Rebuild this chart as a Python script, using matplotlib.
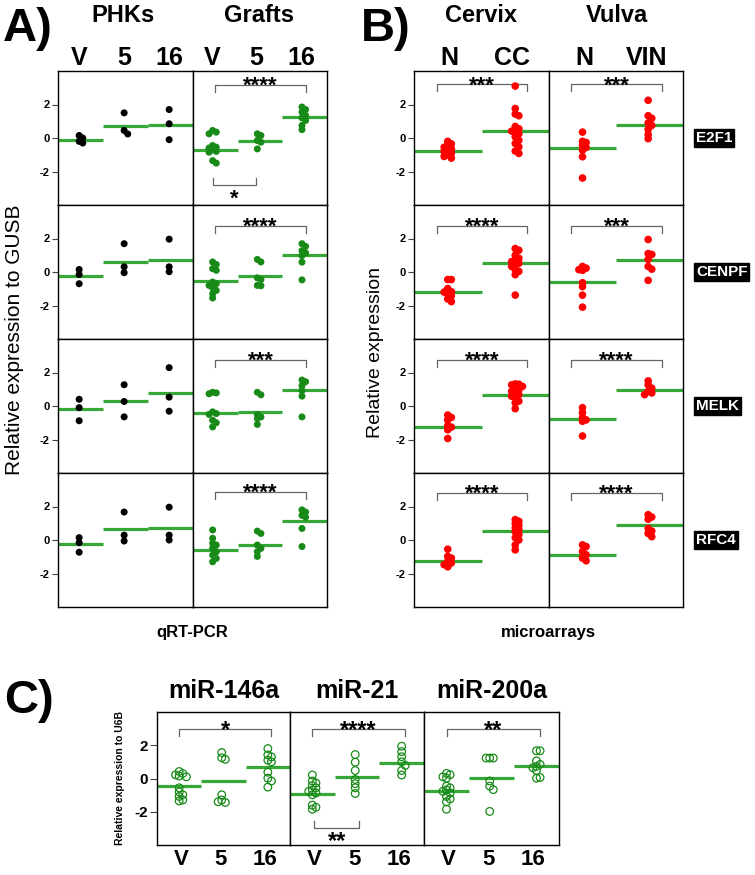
import matplotlib
matplotlib.use("Agg")
import matplotlib.pyplot as plt
from matplotlib import font_manager

# ------------------------------------------------------------
# Data
# ------------------------------------------------------------

GENES = ["E2F1", "CENPF", "MELK", "RFC4"]
TREAT = ["V", "5", "16"]
TISSUE = ["N", "CC", "N", "VIN"]
MIRS = ["miR-146a", "miR-21", "miR-200a"]

# A) qRT-PCR, PHKs (one list per gene row, then per treatment)
phk_v = [[0.15, 0.0, -0.2, -0.3], [0.15, -0.15, -0.7], [0.4, -0.1, -0.88], [0.14, -0.16, -0.73]]
phk_5 = [[1.5, 0.45, 0.24], [1.69, 0.31, -0.04], [1.27, 0.27, -0.65], [1.67, 0.29, -0.06]]
phk_16 = [[1.7, 0.85, -0.1], [1.96, 0.31, 0.02], [2.29, 0.53, -0.31], [1.96, 0.29, 0.0]]
phk_means = [[-0.1, 0.7, 0.8], [-0.24, 0.61, 0.73], [-0.2, 0.27, 0.8], [-0.25, 0.63, 0.73]]

# A) qRT-PCR, grafts
gr_v = [[0.45, 0.35, 0.25, -0.45, -0.55, -0.6, -0.7, -0.8, -0.85, -1.35, -1.5],
        [0.6, 0.45, 0.2, 0.1, -0.6, -0.7, -0.8, -0.95, -1.1, -1.3, -1.55],
        [0.82, 0.78, 0.73, -0.35, -0.45, -0.5, -0.85, -1.0, -1.25],
        [0.6, 0.1, -0.2, -0.3, -0.5, -0.7, -0.9, -1.1, -1.3]]
gr_5 = [[0.25, 0.15, -0.15, -0.25, -0.65],
        [0.75, 0.6, -0.35, -0.45, -0.8, -0.82],
        [0.82, 0.67, -0.5, -0.65, -0.75, -1.1],
        [0.53, 0.39, -0.3, -0.5, -0.7, -0.98]]
gr_16 = [[1.85, 1.7, 1.55, 1.35, 1.2, 1.05, 0.75, 0.5],
         [1.69, 1.53, 1.27, 1.14, 0.98, 0.59, -0.47],
         [1.55, 1.45, 1.22, 0.92, 0.59, -0.65],
         [1.8, 1.67, 1.47, 1.37, 0.69, -0.39]]
gr_means = [[-0.7, -0.2, 1.25], [-0.55, -0.24, 1.04], [-0.39, -0.35, 0.98], [-0.6, -0.29, 1.12]]
gr_stars = ["****", "****", "***", "****"]
gr_star_y = [3.15, 2.75, 2.75, 2.85]

# B) microarrays, cervix
cx_n = [[-0.2, -0.35, -0.45, -0.55, -0.65, -0.7, -0.8, -0.9, -1.0, -1.1, -1.2],
        [-0.45, -0.45, -0.99, -1.18, -1.2, -1.32, -1.42, -1.61, -1.77],
        [-0.54, -0.68, -0.83, -1.17, -1.26, -1.42, -1.94],
        [-0.55, -0.98, -1.08, -1.27, -1.37, -1.47, -1.6]]
cx_cc = [[3.1, 1.76, 1.43, 1.33, 0.69, 0.55, 0.41, 0.41, 0.25, 0.06, -0.14, -0.33, -0.53, -0.78, -0.92],
         [1.4, 1.3, 1.0, 0.82, 0.72, 0.62, 0.52, 0.43, 0.33, 0.14, 0.04, -0.16, -1.38],
         [1.32, 1.3, 1.26, 1.17, 1.07, 0.97, 0.87, 0.78, 0.68, 0.58, 0.49, 0.29, 0.19, -0.16],
         [1.22, 1.12, 0.98, 0.88, 0.73, 0.63, 0.49, 0.33, 0.14, 0.0, -0.29, -0.59]]
cx_means = [[-0.78, 0.43], [-1.22, 0.52], [-1.26, 0.68], [-1.27, 0.55]]
cx_stars = ["***", "****", "****", "****"]

# B) microarrays, vulva
vu_n = [[0.35, -0.2, -0.27, -0.43, -0.57, -0.73, -1.12, -2.39],
        [0.33, 0.23, 0.14, 0.1, -0.64, -0.87, -1.38, -2.1],
        [-0.1, -0.39, -0.68, -0.83, -0.91, -1.79],
        [-0.29, -0.39, -0.69, -0.88, -1.08, -1.24]]
vu_vin = [[2.25, 1.33, 1.18, 0.9, 0.75, 0.51, 0.2, -0.04],
          [1.94, 1.1, 1.05, 0.76, 0.33, 0.17, -0.5],
          [1.5, 1.26, 1.07, 0.87, 0.78, 0.68],
          [1.51, 1.37, 1.24, 0.69, 0.53, 0.39, 0.2]]
vu_means = [[-0.59, 0.8], [-0.6, 0.7], [-0.78, 0.97], [-0.88, 0.9]]
vu_stars = ["***", "***", "****", "****"]
b_star_y = [3.2, 2.75, 2.75, 2.8]

# C) miRNA qRT-PCR (one list per miRNA)
mir_v = [[0.42, 0.3, 0.22, 0.15, 0.1, -0.56, -0.81, -0.98, -1.08, -1.29, -1.35],
         [0.21, -0.15, -0.27, -0.42, -0.56, -0.69, -0.77, -0.87, -0.98, -1.6, -1.73, -1.85],
         [0.31, 0.23, 0.1, 0.02, -0.46, -0.56, -0.69, -0.77, -0.87, -1.08, -1.23, -1.4, -1.85]]
mir_5 = [[1.56, 1.25, 1.15, -0.98, -1.29, -1.44, -1.4],
         [1.44, 0.98, 0.48, -0.06, -0.31, -0.56, -0.9],
         [1.23, 1.23, 1.23, -0.15, -0.46, -0.67, -1.98]]
mir_16 = [[1.8, 1.42, 1.3, 1.1, 1.0, 0.38, 0.02, -0.15, -0.52],
          [1.94, 1.62, 1.31, 1.0, 0.79, 0.48, 0.21],
          [1.67, 1.67, 1.06, 0.85, 0.73, 0.65, 0.48, 0.02, 0.06]]
mir_means = [[-0.48, -0.15, 0.67], [-0.94, 0.1, 0.94], [-0.73, 0.02, 0.73]]
mir_stars = ["*", "****", "**"]

# ------------------------------------------------------------
# Styling
# ------------------------------------------------------------

W, H = 755, 875
GREEN_PT = "#178a17"
GREEN_LN = "#37a837"
RED = "#ff0000"
BRACKET = "#666666"

plt.rcParams["font.family"] = ["Liberation Sans", "DejaVu Sans"]
plt.rcParams["axes.linewidth"] = 1.0

names = {f.name for f in font_manager.fontManager.ttflist}
NARROW = "Liberation Sans Narrow" if "Liberation Sans Narrow" in names else "Liberation Sans"


def px_axes(fig, x0, y0, x1, y1):
    return fig.add_axes([x0 / W, 1 - y1 / H, (x1 - x0) / W, (y1 - y0) / H])


def swarm_x(values, center, dx, dy):
    """Simple beeswarm: nudge points sideways only when they collide."""
    taken, xs = [], []
    for v in values:
        off = 0.0
        for k in range(12):
            cands = [0.0] if k == 0 else [k * dx, -k * dx]
            free = [o for o in cands
                    if all(abs(o - to) >= dx * 0.99 or abs(v - tv) >= dy for to, tv in taken)]
            if free:
                off = free[0]
                break
        taken.append((off, v))
        xs.append(center + off)
    return xs


def draw_cell(ax, groups, means, positions, color, w_px, hollow=False, ms=6.8):
    n = len(groups)
    ux = w_px / n           # pixels per x unit
    uy = 134 / 8.0          # pixels per y unit
    for i, (vals, m, pos) in enumerate(zip(groups, means, positions)):
        ax.plot([i, i + 1], [m, m], color=GREEN_LN, lw=2.3, solid_capstyle="butt", zorder=2,
                clip_on=False)
        xs = swarm_x(vals, pos, 3.6 / ux, 3.6 / uy)
        if hollow:
            ax.scatter(xs, vals, s=ms ** 2 * 0.55, facecolors="none", edgecolors=color,
                       linewidths=0.9, zorder=3)
        else:
            ax.scatter(xs, vals, s=ms ** 2 * 0.55, color=color, edgecolors="none", zorder=3)
    ax.set_xlim(0, n)
    ax.set_ylim(-4, 4)
    ax.set_xticks([])
    ax.set_yticks([])


def bracket(ax, x1, x2, y, text, uy, up=True, drop=0.4, fs=16, family=None):
    d = -drop if up else drop
    ax.plot([x1, x1, x2, x2], [y + d, y, y, y + d], color=BRACKET, lw=0.9, clip_on=False)
    # star glyphs sit high above the baseline, so shift baseline down
    star_mid = 0.56 * fs * 100 / 72 / uy
    ty = (y + 0.33 if up else y - 0.42) - star_mid
    ax.text((x1 + x2) / 2, ty, text, ha="center", va="baseline", fontsize=fs,
            fontweight="bold", family=family or plt.rcParams["font.family"])


def left_ticks(ax, fs=8, family=None, length=4.5):
    ax.set_yticks([-2, 0, 2])
    ax.set_yticklabels(["-2", "0", "2"], fontsize=fs, fontweight="bold",
                       family=family or plt.rcParams["font.family"])
    ax.tick_params(axis="y", length=length, width=0.8, color="#444444", pad=1.5)


fig = plt.figure(figsize=(W / 100, H / 100), dpi=100)

# ------------------------------------------------------------
# Panel A
# ------------------------------------------------------------
row_top = [71, 205, 339, 473]
uy = 134 / 8.0
for r in range(4):
    y0, y1 = row_top[r], row_top[r] + 134
    ax1 = px_axes(fig, 58, y0, 193, y1)
    draw_cell(ax1, [phk_v[r], phk_5[r], phk_16[r]], phk_means[r], [0.47, 1.47, 2.47], "black", 135)
    left_ticks(ax1)
    ax2 = px_axes(fig, 193, y0, 327, y1)
    draw_cell(ax2, [gr_v[r], gr_5[r], gr_16[r]], gr_means[r], [0.44, 1.44, 2.44], GREEN_PT, 134)
    bracket(ax2, 0.49, 2.53, gr_star_y[r], gr_stars[r], uy)
    if r == 0:
        bracket(ax2, 0.44, 1.42, -2.8, "*", uy, up=False)
        for ax, pos in ((ax1, [0.47, 1.47, 2.47]), (ax2, [0.42, 1.42, 2.42])):
            ax.xaxis.tick_top()
            ax.set_xticks(pos)
            ax.set_xticklabels(TREAT, fontsize=18, fontweight="bold")
            ax.tick_params(axis="x", length=0, pad=0.5)

# ------------------------------------------------------------
# Panel B
# ------------------------------------------------------------
for r in range(4):
    y0, y1 = row_top[r], row_top[r] + 134
    ax1 = px_axes(fig, 414, y0, 549, y1)
    draw_cell(ax1, [cx_n[r], cx_cc[r]], cx_means[r], [0.5, 1.5], RED, 135, ms=7.4)
    left_ticks(ax1)
    bracket(ax1, 0.34, 1.67, b_star_y[r], cx_stars[r], uy)
    ax2 = px_axes(fig, 549, y0, 683, y1)
    draw_cell(ax2, [vu_n[r], vu_vin[r]], vu_means[r], [0.5, 1.48], RED, 134, ms=7.4)
    bracket(ax2, 0.33, 1.69, b_star_y[r], vu_stars[r], uy)
    if r == 0:
        for ax, labs in ((ax1, TISSUE[:2]), (ax2, TISSUE[2:])):
            ax.xaxis.tick_top()
            ax.set_xticks([0.53, 1.45])
            ax.set_xticklabels(labs, fontsize=18, fontweight="bold")
            ax.tick_params(axis="x", length=0, pad=0.5)
    fig.text(696 / W, 1 - (y0 + 67) / H, GENES[r], color="white", fontsize=11,
             fontweight="bold", ha="left", va="center",
             bbox=dict(boxstyle="square,pad=0.12", fc="black", ec="black"))

# ------------------------------------------------------------
# Panel C
# ------------------------------------------------------------
c_cols = [(157, 290), (290, 424), (424, 559)]
for c, (x0, x1) in enumerate(c_cols):
    ax = px_axes(fig, x0, 712, x1, 845)
    draw_cell(ax, [mir_v[c], mir_5[c], mir_16[c]], mir_means[c], [0.5, 1.46, 2.5], GREEN_PT,
              x1 - x0, hollow=True, ms=7.4)
    bracket(ax, 0.5, 2.57, 2.95, mir_stars[c], 133 / 8.0, family=NARROW, fs=17)
    if c == 1:
        bracket(ax, 0.54, 1.55, -2.95, "**", 133 / 8.0, up=False, family=NARROW, fs=17)
    if c == 0:
        left_ticks(ax, fs=11, family=NARROW, length=5)
    ax.set_xticks([0.54, 1.44, 2.43])
    ax.set_xticklabels(TREAT, fontsize=16, fontweight="bold", family=NARROW)
    ax.tick_params(axis="x", length=0, pad=3)
    fig.text((x0 + x1) / 2 / W, 1 - 691 / H, MIRS[c], fontsize=18, fontweight="bold",
             family=NARROW, ha="center", va="center")

# ------------------------------------------------------------
# Titles and labels
# ------------------------------------------------------------
fig.text(3 / W, 1 - 29 / H, "A)", fontsize=34, fontweight="bold", ha="left", va="center")
fig.text(361 / W, 1 - 29 / H, "B)", fontsize=34, fontweight="bold", ha="left", va="center")
fig.text(4 / W, 1 - 701 / H, "C)", fontsize=34, fontweight="bold", ha="left", va="center",
         family=NARROW)

for x, t in ((123, "PHKs"), (259, "Grafts"), (481, "Cervix"), (617, "Vulva")):
    fig.text(x / W, 1 - 15 / H, t, fontsize=17, fontweight="bold", ha="center", va="center")

fig.text(15 / W, 1 - 340 / H, "Relative expression to GUSB", rotation=90, fontsize=15,
         ha="center", va="center")
fig.text(375 / W, 1 - 352 / H, "Relative expression", rotation=90, fontsize=14,
         ha="center", va="center")
fig.text(120 / W, 1 - 778 / H, "Relative expression to U6B", rotation=90, fontsize=7.5,
         fontweight="bold", ha="center", va="center")

fig.text(192 / W, 1 - 632 / H, "qRT-PCR", fontsize=12, fontweight="bold", ha="center", va="center")
fig.text(548 / W, 1 - 632 / H, "microarrays", fontsize=12, fontweight="bold", ha="center",
         va="center")

fig.savefig("out.png", dpi=100)
